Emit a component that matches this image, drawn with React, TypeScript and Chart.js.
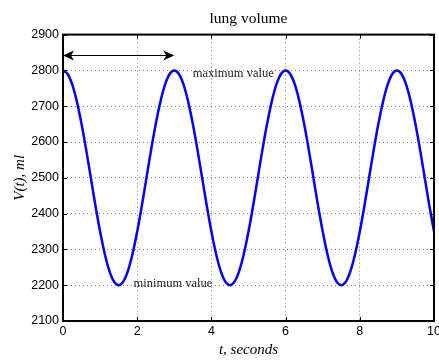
import React, { useEffect, useRef } from "react";
import { Chart, registerables } from "chart.js";

Chart.register(...registerables);

const titleText = "lung volume";
const xAxisTitle = "t, seconds";
const yAxisTitle = "V(t), ml";

const tSeconds = [
  0, 0.125, 0.25, 0.375, 0.5, 0.625, 0.75, 0.875, 1, 1.125, 1.25, 1.375, 1.5, 1.625, 1.75, 1.875,
  2, 2.125, 2.25, 2.375, 2.5, 2.625, 2.75, 2.875, 3, 3.125, 3.25, 3.375, 3.5, 3.625, 3.75, 3.875,
  4, 4.125, 4.25, 4.375, 4.5, 4.625, 4.75, 4.875, 5, 5.125, 5.25, 5.375, 5.5, 5.625, 5.75, 5.875,
  6, 6.125, 6.25, 6.375, 6.5, 6.625, 6.75, 6.875, 7, 7.125, 7.25, 7.375, 7.5, 7.625, 7.75, 7.875,
  8, 8.125, 8.25, 8.375, 8.5, 8.625, 8.75, 8.875, 9, 9.125, 9.25, 9.375, 9.5, 9.625, 9.75, 9.875, 10,
];

const volumeMl = [
  2800, 2790, 2760, 2712, 2650, 2578, 2500, 2422, 2350, 2288, 2240, 2210,
  2200, 2210, 2240, 2288, 2350, 2422, 2500, 2578, 2650, 2712, 2760, 2790,
  2800, 2790, 2760, 2712, 2650, 2578, 2500, 2422, 2350, 2288, 2240, 2210,
  2200, 2210, 2240, 2288, 2350, 2422, 2500, 2578, 2650, 2712, 2760, 2790,
  2800, 2790, 2760, 2712, 2650, 2578, 2500, 2422, 2350, 2288, 2240, 2210,
  2200, 2210, 2240, 2288, 2350, 2422, 2500, 2578, 2650, 2712, 2760, 2790,
  2800, 2790, 2760, 2712, 2650, 2578, 2500, 2422, 2350,
];

const xTickValues = [0, 2, 4, 6, 8, 10];
const yTickValues = [2100, 2200, 2300, 2400, 2500, 2600, 2700, 2800, 2900];

// annotations (data coordinates)
const periodArrow = { from: 0, to: 3, level: 2844 };
const noteLabels = [
  { text: "maximum value", t: 3.5, v: 2791 },
  { text: "minimum value", t: 1.9, v: 2203 },
];

const framePlugin = {
  id: "frameAndNotes",
  afterDatasetsDraw(chart: any) {
    const { ctx, chartArea, scales } = chart;
    const xs = scales.x;
    const ys = scales.y;
    const { left, right, top, bottom } = chartArea;
    ctx.save();
    // inward ticks
    ctx.strokeStyle = "#000";
    ctx.lineWidth = 1;
    const tl = 4;
    ctx.beginPath();
    xTickValues.forEach((v) => {
      const px = Math.round(xs.getPixelForValue(v)) + 0.5;
      ctx.moveTo(px, bottom);
      ctx.lineTo(px, bottom - tl);
      ctx.moveTo(px, top);
      ctx.lineTo(px, top + tl);
    });
    yTickValues.forEach((v) => {
      const py = Math.round(ys.getPixelForValue(v)) + 0.5;
      ctx.moveTo(left, py);
      ctx.lineTo(left + tl, py);
      ctx.moveTo(right, py);
      ctx.lineTo(right - tl, py);
    });
    ctx.stroke();
    // frame
    ctx.lineWidth = 2;
    ctx.strokeRect(left, top, right - left, bottom - top);

    // arrow
    const ax1 = xs.getPixelForValue(periodArrow.from);
    const ax2 = xs.getPixelForValue(periodArrow.to);
    const ay = Math.round(ys.getPixelForValue(periodArrow.level)) + 0.5;
    ctx.lineWidth = 1.2;
    ctx.beginPath();
    ctx.moveTo(ax1 + 3, ay);
    ctx.lineTo(ax2 - 3, ay);
    ctx.stroke();
    const head = (x: number, dir: number) => {
      ctx.beginPath();
      ctx.moveTo(x, ay);
      ctx.lineTo(x - dir * 11, ay - 5);
      ctx.lineTo(x - dir * 8, ay);
      ctx.lineTo(x - dir * 11, ay + 5);
      ctx.closePath();
      ctx.fillStyle = "#000";
      ctx.fill();
    };
    head(ax1, -1);
    head(ax2, 1);

    // notes
    ctx.fillStyle = "#222";
    ctx.font = "12.5px 'Liberation Serif'";
    ctx.textBaseline = "middle";
    ctx.textAlign = "left";
    noteLabels.forEach((n) => {
      ctx.fillText(n.text, xs.getPixelForValue(n.t), ys.getPixelForValue(n.v));
    });
    ctx.restore();
  },
};

export default function App() {
  const ref = useRef<HTMLCanvasElement>(null);
  useEffect(() => {
    const canvas = ref.current;
    if (!canvas) return;
    const chart = new Chart(canvas, {
      type: "line",
      data: {
        datasets: [
          {
            data: tSeconds.map((t, i) => ({ x: t, y: volumeMl[i] })),
            borderColor: "#0000ff",
            borderWidth: 2.5,
            pointRadius: 0,
            tension: 0.4,
            cubicInterpolationMode: "monotone",
            fill: false,
          },
        ],
      },
      options: {
        responsive: false,
        animation: false,
        devicePixelRatio: 1,
        layout: { padding: { left: 0, right: 5, top: 0, bottom: 0 } },
        plugins: {
          legend: { display: false },
          tooltip: { enabled: false },
          title: {
            display: true,
            text: titleText,
            fullSize: false,
            color: "#000",
            font: { family: "'Liberation Serif'", size: 15.5, weight: "normal" },
            padding: { top: 10, bottom: 6 },
          },
        },
        scales: {
          x: {
            type: "linear",
            min: 0,
            max: 10,
            afterFit(scale: any) {
              scale.height = 39;
              scale.paddingLeft = 0;
              scale.paddingRight = 0;
            },
            afterBuildTicks(scale: any) {
              scale.ticks = xTickValues.map((v) => ({ value: v }));
            },
            ticks: {
              color: "#000",
              font: { family: "'Liberation Sans'", size: 12.5 },
              padding: 3,
              maxRotation: 0,
              callback: (v: any) => String(v),
            },
            grid: { color: "rgba(0,0,0,0.5)", lineWidth: 1, drawTicks: false },
            border: { display: false, dash: [1, 3] },
            title: {
              display: true,
              text: xAxisTitle,
              color: "#000",
              font: { family: "'Liberation Serif'", size: 15, style: "italic" },
              padding: { top: 0, bottom: 1 },
            },
          },
          y: {
            type: "linear",
            min: 2100,
            max: 2900,
            afterFit(scale: any) {
              scale.width = 63;
              scale.paddingTop = 0;
              scale.paddingBottom = 0;
            },
            afterBuildTicks(scale: any) {
              scale.ticks = yTickValues.map((v) => ({ value: v }));
            },
            ticks: {
              color: "#000",
              font: { family: "'Liberation Sans'", size: 12.5 },
              padding: 4,
              callback: (v: any) => String(v),
            },
            grid: { color: "rgba(0,0,0,0.5)", lineWidth: 1, drawTicks: false },
            border: { display: false, dash: [1, 3] },
            title: {
              display: true,
              text: yAxisTitle,
              color: "#000",
              font: { family: "'Liberation Serif'", size: 15, style: "italic" },
              padding: { top: 11, bottom: 0 },
            },
          },
        },
      },
      plugins: [framePlugin],
    } as any);
    return () => chart.destroy();
  }, []);
  return (
    <div style={{ position: "absolute", left: 0, top: 0, width: 439, height: 360, background: "#fff" }}>
      <canvas ref={ref} width={439} height={360} />
    </div>
  );
}
